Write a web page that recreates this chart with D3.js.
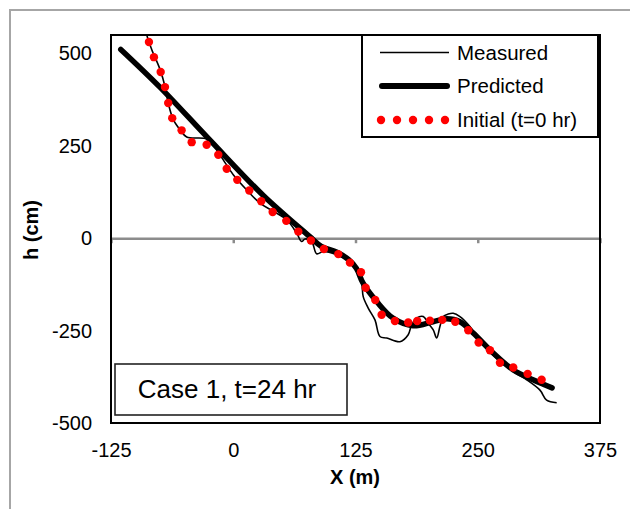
<!DOCTYPE html>
<html>
<head>
<meta charset="utf-8">
<script src="https://cdn.jsdelivr.net/npm/d3@7"></script>
<style>
  html, body { margin: 0; padding: 0; background: #fff; }
  svg { display: block; font-family: "Liberation Sans", Arial, sans-serif; }
</style>
</head>
<body>
<svg id="chart" width="630" height="509"></svg>
<script>
// ---- data ----
const xTicks = [-125, 0, 125, 250, 375];
const yTicks = [-500, -250, 0, 250, 500];
const seriesNames = ["Measured", "Predicted", "Initial (t=0 hr)"];
const caseLabel = "Case 1, t=24 hr";

const measuredX = [-90, -88.5, -83.4, -74.9, -69.8, -66.5, -61.3, -54.5, -47.6, -27.2, -20.4, -10.2, 0, 13.7, 27.3, 40.9, 54.6, 64.8, 69.9, 73.3, 80.2, 85.3, 92.1, 105.7, 119.3, 126.2, 131.3, 132.9, 138, 144.9, 150, 156.9, 170.4, 178.9, 182.4, 187.5, 194.3, 199.4, 204.5, 208, 211.3, 214.7, 219.8, 224.9, 231.8, 242, 252.3, 269.3, 286.3, 300, 313.6, 320.4, 330.7];
const measuredH = [580, 551, 511, 457, 411, 366, 321, 294, 274, 269, 253, 212, 172, 131, 95, 73, 50, 14, -9, -2, -9, -42, -36, -45, -63, -85, -121, -158, -189, -221, -266, -270, -280, -261, -234, -216, -212, -230, -248, -270, -239, -212, -205, -203, -212, -239, -280, -325, -361, -383, -411, -438, -445];

const predictedX = [-115, -75, -24, 31, 78, 90, 106, 118, 126, 132.6, 146.9, 163.3, 183.7, 204.3, 218.5, 231.8, 245.1, 265.5, 286, 306.5, 326];
const predictedH = [511, 409, 266, 115, 5, -22, -38, -58, -82, -121, -172, -216, -237, -226, -218, -226, -256, -310, -356, -383, -405];

const initialX = [-86.2, -81.1, -74.2, -69.8, -66.5, -62.4, -52.8, -42.5, -27.2, -15.3, -6.7, 4.1, 16.4, 28.6, 40.3, 54.2, 66.5, 79.4, 92.7, 107.4, 119.3, 130.6, 135.4, 145.2, 151.7, 165.3, 178.9, 188.1, 201.1, 213.7, 227, 240.3, 250.9, 262.5, 272.7, 286.3, 301, 315.3];
const initialH = [531, 490, 450, 409, 366, 325, 292, 260, 253, 226, 188, 158, 129, 100, 71, 47, 18, -6, -29, -43, -66, -92, -134, -167, -207, -224, -228, -224, -223, -221, -226, -249, -282, -303, -337, -350, -367, -383];

// ---- layout ----
const svg = d3.select("#chart");
const L = 111, R = 600, T = 35, B = 423;
const x = d3.scaleLinear().domain([-125, 375]).range([L, R]);
const y = d3.scaleLinear().domain([-500, 550]).range([B, T]);
const fmt = d => String(d);

// outer chart frame
svg.append("rect").attr("x", 10).attr("y", 10).attr("width", 640).attr("height", 520)
  .attr("fill", "#fff").attr("stroke", "#a6a6a6").attr("stroke-width", 2);

svg.append("defs").append("clipPath").attr("id", "clip")
  .append("rect").attr("x", L).attr("y", T).attr("width", R - L).attr("height", B - T);

// zero line with ticks
const zeroAxis = d3.axisBottom(x).tickValues(xTicks).tickSize(5).tickSizeOuter(0).tickFormat("");
const za = svg.append("g").attr("transform", `translate(0,${y(0)})`).call(zeroAxis);
za.select(".domain").attr("stroke", "#8c8c8c").attr("stroke-width", 2.5);
za.selectAll(".tick line").attr("stroke", "#8c8c8c").attr("stroke-width", 2.5);

// tick labels
const xa = svg.append("g").attr("transform", `translate(0,${B})`)
  .call(d3.axisBottom(x).tickValues(xTicks).tickFormat(fmt).tickSize(0).tickPadding(20));
xa.select(".domain").remove();
xa.selectAll("text").attr("font-size", 20).attr("fill", "#000")
  .attr("font-family", "Liberation Sans, Arial, sans-serif");

const ya = svg.append("g").attr("transform", `translate(${L},0)`)
  .call(d3.axisLeft(y).tickValues(yTicks).tickFormat(fmt).tickSize(0).tickPadding(19));
ya.select(".domain").remove();
ya.selectAll("text").attr("font-size", 20).attr("fill", "#000")
  .attr("font-family", "Liberation Sans, Arial, sans-serif");

// plot frame
svg.append("rect").attr("x", L).attr("y", T).attr("width", R - L).attr("height", B - T)
  .attr("fill", "none").attr("stroke", "#000").attr("stroke-width", 2);

// series
const plot = svg.append("g").attr("clip-path", "url(#clip)");
const lineGen = d3.line().x(d => x(d[0])).y(d => y(d[1])).curve(d3.curveCatmullRom.alpha(0.5));

plot.append("path").datum(measuredX.map((v, i) => [v, measuredH[i]]))
  .attr("d", lineGen).attr("fill", "none").attr("stroke", "#000").attr("stroke-width", 1.6)
  .attr("stroke-linejoin", "round");

plot.append("path").datum(predictedX.map((v, i) => [v, predictedH[i]]))
  .attr("d", lineGen).attr("fill", "none").attr("stroke", "#000").attr("stroke-width", 5.5)
  .attr("stroke-linecap", "round").attr("stroke-linejoin", "round");

plot.selectAll("circle.init").data(initialX.map((v, i) => [v, initialH[i]]))
  .enter().append("circle").attr("class", "init")
  .attr("cx", d => x(d[0])).attr("cy", d => y(d[1])).attr("r", 4.2).attr("fill", "#ff0000");

// legend
const lg = svg.append("g");
lg.append("rect").attr("x", 362).attr("y", T).attr("width", 236).attr("height", 102)
  .attr("fill", "#fff").attr("stroke", "#000").attr("stroke-width", 2);
const ly = [52.5, 86, 120];
lg.append("line").attr("x1", 380).attr("x2", 449).attr("y1", ly[0]).attr("y2", ly[0])
  .attr("stroke", "#000").attr("stroke-width", 1.6);
lg.append("line").attr("x1", 382).attr("x2", 447).attr("y1", ly[1]).attr("y2", ly[1])
  .attr("stroke", "#000").attr("stroke-width", 6).attr("stroke-linecap", "round");
[381, 397, 413, 429, 445].forEach(cx => {
  lg.append("circle").attr("cx", cx).attr("cy", ly[2]).attr("r", 4.2).attr("fill", "#ff0000");
});
seriesNames.forEach((n, i) => {
  lg.append("text").attr("x", 457).attr("y", ly[i]).attr("dy", "0.35em")
    .attr("font-size", 20.5).attr("fill", "#000").text(n);
});

// case label box
svg.append("rect").attr("x", 115).attr("y", 364).attr("width", 232).attr("height", 51)
  .attr("fill", "#fff").attr("stroke", "#222").attr("stroke-width", 1.6);
svg.append("text").attr("x", 227).attr("y", 398).attr("text-anchor", "middle")
  .attr("font-size", 26).attr("fill", "#000").text(caseLabel);

// axis titles
svg.append("text").attr("x", 355).attr("y", 484).attr("text-anchor", "middle")
  .attr("font-size", 20).attr("font-weight", "bold").text("X (m)");
svg.append("text").attr("transform", "translate(38,230) rotate(-90)")
  .attr("text-anchor", "middle").attr("font-size", 20).attr("font-weight", "bold").text("h (cm)");
</script>
</body>
</html>
